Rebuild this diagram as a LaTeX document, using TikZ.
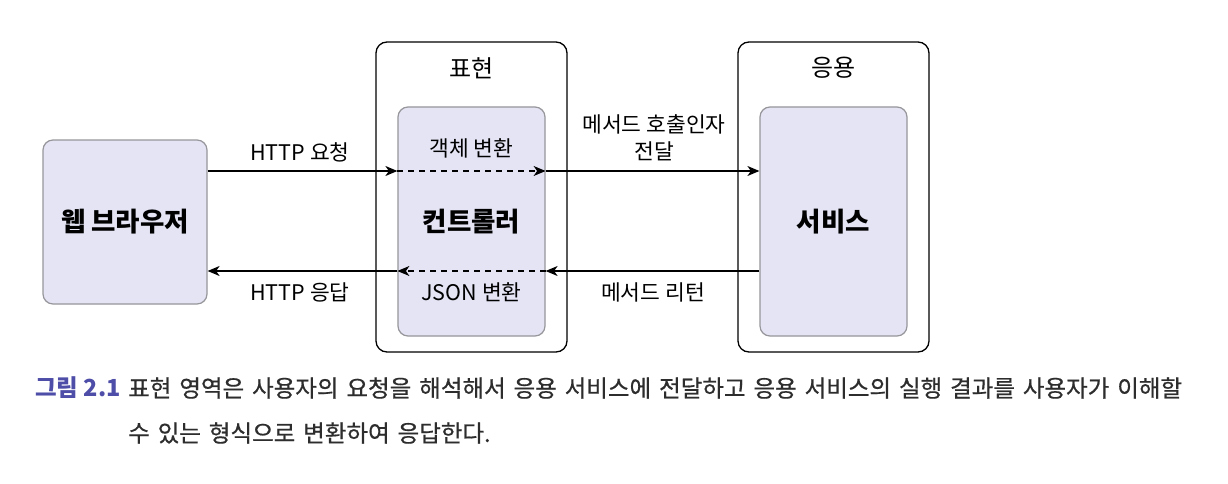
\documentclass[tikz,border=0pt]{standalone}
\usepackage{fontspec}
\setmainfont{Noto Sans CJK KR}
\newfontfamily\capfont[WordSpace=1.5,FakeBold=0.6]{Noto Sans CJK KR}
\usetikzlibrary{arrows.meta}
\definecolor{lav}{RGB}{228,228,245}
\definecolor{lavborder}{RGB}{150,150,155}
\definecolor{capblue}{RGB}{78,78,168}
\definecolor{captext}{RGB}{45,45,45}
\tikzset{
  softbox/.style={draw=lavborder, fill=lav, line width=1.2pt, rounded corners=10pt, inner sep=0pt},
  layerbox/.style={draw=black, fill=white, line width=1.3pt, rounded corners=11pt, inner sep=0pt},
  arr/.style={-{Stealth[length=12pt,width=10pt,inset=3.5pt]}, line width=1.2pt},
  darr/.style={arr, dash pattern=on 6pt off 5pt},
  lbl/.style={font=\fontsize{21.5}{26}\selectfont, inner sep=0pt},
  big/.style={font=\fontsize{26.5}{30}\selectfont\bfseries, inner sep=0pt},
  captxt/.style={font=\capfont\fontsize{23.5}{28}\selectfont, text=captext, inner sep=0pt, anchor=west}
}
\begin{document}
\begin{tikzpicture}[x=1pt,y=-1pt]
\useasboundingbox (0,0) rectangle (1228,484);
\node[softbox, minimum width=164pt, minimum height=164pt] (browser) at (125,222) {};
\node[layerbox, minimum width=191pt, minimum height=310pt] (pres) at (471.5,197) {};
\node[softbox, minimum width=147pt, minimum height=229pt] (ctrl) at (471.5,221.5) {};
\node[layerbox, minimum width=191pt, minimum height=310pt] (app) at (833.5,197) {};
\node[softbox, minimum width=147pt, minimum height=229pt] (svc) at (833.5,221.5) {};

\node[big] (browsert) at (125,222) {웹 브라우저};
\node[big] (ctrlt) at (471.5,222) {컨트롤러};
\node[big] (svct) at (833.5,222) {서비스};
\node[lbl, font=\fontsize{24}{28}\selectfont] (prest) at (471.5,68) {표현};
\node[lbl, font=\fontsize{24}{28}\selectfont] (appt) at (833.5,68) {응용};

\coordinate (top) at (0,171);
\coordinate (bot) at (0,271);
\draw[arr] (browser.east |- top) -- (ctrl.west |- top);
\draw[darr] (ctrl.west |- top) -- (ctrl.east |- top);
\draw[arr] (ctrl.east |- top) -- (svc.west |- top);
\draw[arr] (svc.west |- bot) -- (ctrl.east |- bot);
\draw[darr] (ctrl.east |- bot) -- (ctrl.west |- bot);
\draw[arr] (ctrl.west |- bot) -- (browser.east |- bot);

\node[lbl] (req) at (300,152) {HTTP 요청};
\node[lbl] (res) at (300,292) {HTTP 응답};
\node[lbl] (obj) at (471.5,148) {객체 변환};
\node[lbl] (json) at (471.5,292) {JSON 변환};
\node[lbl, align=center, font=\fontsize{21.5}{27}\selectfont] (call) at (654,138) {메서드 호출인자\\전달};
\node[lbl] (ret) at (653,292) {메서드 리턴};

\node[captxt, text=capblue, font=\fontsize{23.5}{28}\selectfont\bfseries] (capl) at (35,388) {그림 2.1};
\node[captxt] (cap1) at (128,388) {표현 영역은 사용자의 요청을 해석해서 응용 서비스에 전달하고 응용 서비스의 실행 결과를 사용자가 이해할};
\node[captxt] (cap2) at (128,433) {수 있는 형식으로 변환하여 응답한다.};
\end{tikzpicture}
\end{document}
